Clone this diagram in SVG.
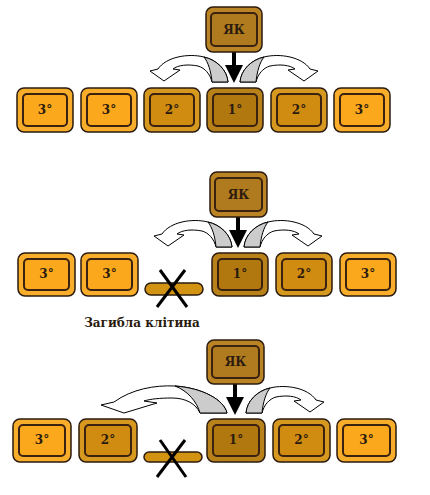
<svg xmlns="http://www.w3.org/2000/svg" width="430" height="495" viewBox="0 0 430 495">
<style>
.o{stroke:#2b1b0e;stroke-width:1.5}
.i{stroke:#3b2210;stroke-width:2}
.c3 .o{fill:#f8ad2b}.c3 .i{fill:#fba81c}
.c2 .o{fill:#d6981e}.c2 .i{fill:#d08c10}
.c1 .o{fill:#b98119}.c1 .i{fill:#b27810}
.cy .o{fill:#ba8324}.cy .i{fill:#b07a1e}
text{font-family:"DejaVu Serif","Liberation Serif",serif;font-weight:bold;fill:#2b1b0e;text-anchor:middle}
.t{font-size:12px}
.w{fill:#fff;stroke:#000;stroke-width:1;stroke-linejoin:round}
.g{fill:#cccccc;stroke:#000;stroke-width:1;stroke-linejoin:round}
.pill{fill:#d39312;stroke:#2b1b0e;stroke-width:1.5}
.x{stroke:#000;stroke-width:3}
</style>
<defs>
<g id="cl">
<path class="w" d="M158,69 C166,57 188,53 204,57 C217,60 227,70 228,82 L212,82 C210,74 205,68 198,66 C188,64 178,65 173,69 L180,70 L164,81 L150,71 Z"/>
<path class="g" d="M204,57 C217,60 227,70 228,82 L212,82 C211,71 208,62 204,57 Z"/>
</g>
<g id="cr"><use href="#cl" transform="translate(468,0) scale(-1,1)"/></g>
<g id="dn"><rect x="232" y="52" width="4" height="15"/><polygon points="225,65 243,65 234,83"/></g>
</defs>

<g id="connectors">
<use href="#dn"/>
<use href="#cl"/>
<use href="#cr"/>
<g transform="translate(4,165)"><use href="#dn"/><use href="#cl"/><use href="#cr"/></g>
<g transform="translate(1,332)"><use href="#dn"/></g>
<g transform="translate(6,331)"><use href="#cr"/></g>
<path class="w" d="M114,402 C132,389 155,385 175,386 C203,388 224,400 227,413 L200,413 C196,404 186,398 172,398 C160,398 150,399 144,401 L157,403 L124,413 L101,405 Z"/>
<path class="g" d="M175,386 C203,388 224,400 227,413 L200,413 C197,402 188,391 175,386 Z"/>
</g>

<!-- Row 1 -->
<g id="yk1" class="cy"><rect class="o" x="206" y="7" width="56" height="45" rx="7"/><rect class="i" x="211" y="13" width="46" height="33" rx="4"/><text class="t" x="234" y="34">ЯК</text></g>
<g id="r1a" class="c3"><rect class="o" x="17" y="88" width="56" height="44" rx="7"/><rect class="i" x="23" y="94" width="44" height="32" rx="4"/><text class="t" x="45" y="114">3°</text></g>
<g id="r1b" class="c3"><rect class="o" x="81" y="88" width="56" height="44" rx="7"/><rect class="i" x="87" y="94" width="44" height="32" rx="4"/><text class="t" x="109" y="114">3°</text></g>
<g id="r1c" class="c2"><rect class="o" x="144" y="88" width="56" height="44" rx="7"/><rect class="i" x="150" y="94" width="44" height="32" rx="4"/><text class="t" x="172" y="114">2°</text></g>
<g id="r1d" class="c1"><rect class="o" x="207" y="88" width="56" height="44" rx="7"/><rect class="i" x="213" y="94" width="44" height="32" rx="4"/><text class="t" x="235" y="114">1°</text></g>
<g id="r1e" class="c2"><rect class="o" x="271" y="88" width="56" height="44" rx="7"/><rect class="i" x="277" y="94" width="44" height="32" rx="4"/><text class="t" x="299" y="114">2°</text></g>
<g id="r1f" class="c3"><rect class="o" x="334" y="88" width="56" height="44" rx="7"/><rect class="i" x="340" y="94" width="44" height="32" rx="4"/><text class="t" x="362" y="114">3°</text></g>

<!-- Row 2 -->
<g id="yk2" class="cy"><rect class="o" x="210" y="172" width="57" height="45" rx="7"/><rect class="i" x="215" y="178" width="47" height="33" rx="4"/><text class="t" x="238.500" y="199">ЯК</text></g>
<g id="r2a" class="c3"><rect class="o" x="18" y="253" width="57" height="43" rx="7"/><rect class="i" x="24" y="259" width="45" height="31" rx="4"/><text class="t" x="46.500" y="278">3°</text></g>
<g id="r2b" class="c3"><rect class="o" x="81" y="253" width="57" height="43" rx="7"/><rect class="i" x="87" y="259" width="45" height="31" rx="4"/><text class="t" x="109.500" y="278">3°</text></g>
<g id="dead2"><rect class="pill" x="145" y="283" width="58" height="12" rx="6"/><line class="x" x1="160" y1="270" x2="187" y2="307"/><line class="x" x1="185" y1="270" x2="157" y2="307"/></g>
<g id="r2d" class="c1"><rect class="o" x="212" y="253" width="56" height="43" rx="7"/><rect class="i" x="218" y="259" width="44" height="31" rx="4"/><text class="t" x="240" y="278">1°</text></g>
<g id="r2e" class="c2"><rect class="o" x="276" y="253" width="56" height="43" rx="7"/><rect class="i" x="282" y="259" width="44" height="31" rx="4"/><text class="t" x="304" y="278">2°</text></g>
<g id="r2f" class="c3"><rect class="o" x="340" y="253" width="56" height="43" rx="7"/><rect class="i" x="346" y="259" width="44" height="31" rx="4"/><text class="t" x="368" y="278">3°</text></g>
<g id="label"><text x="142" y="327" style="font-size:12px">Загибла клітина</text></g>

<!-- Row 3 -->
<g id="yk3" class="cy"><rect class="o" x="207" y="340" width="57" height="44" rx="7"/><rect class="i" x="212" y="346" width="47" height="32" rx="4"/><text class="t" x="235.500" y="366">ЯК</text></g>
<g id="r3a" class="c3"><rect class="o" x="13" y="419" width="58" height="43" rx="7"/><rect class="i" x="19" y="425" width="46" height="31" rx="4"/><text class="t" x="42" y="444">3°</text></g>
<g id="r3b" class="c2"><rect class="o" x="79" y="419" width="58" height="43" rx="7"/><rect class="i" x="85" y="425" width="46" height="31" rx="4"/><text class="t" x="108" y="444">2°</text></g>
<g id="dead3"><rect class="pill" x="144" y="452" width="58" height="10" rx="5"/><line class="x" x1="160" y1="440" x2="186" y2="477"/><line class="x" x1="185" y1="440" x2="157" y2="477"/></g>
<g id="r3d" class="c1"><rect class="o" x="207" y="419" width="58" height="43" rx="7"/><rect class="i" x="213" y="425" width="46" height="31" rx="4"/><text class="t" x="236" y="444">1°</text></g>
<g id="r3e" class="c2"><rect class="o" x="273" y="419" width="57" height="43" rx="7"/><rect class="i" x="279" y="425" width="45" height="31" rx="4"/><text class="t" x="301.500" y="444">2°</text></g>
<g id="r3f" class="c3"><rect class="o" x="337" y="419" width="59" height="43" rx="7"/><rect class="i" x="343" y="425" width="47" height="31" rx="4"/><text class="t" x="366.500" y="444">3°</text></g>
</svg>
